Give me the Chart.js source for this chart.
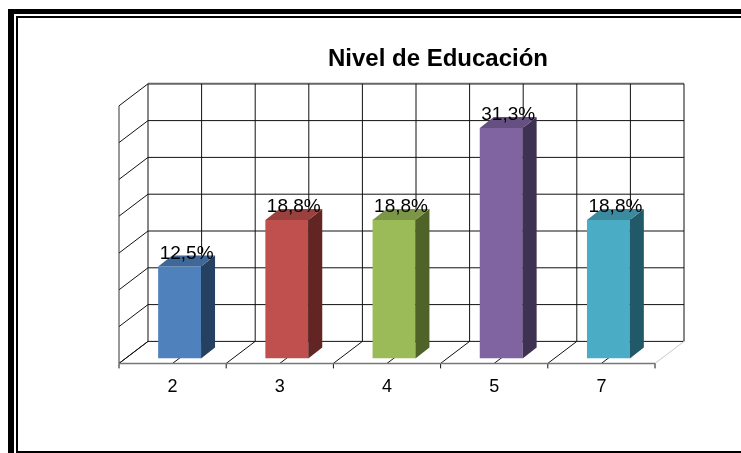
<!DOCTYPE html>
<html>
<head>
<meta charset="utf-8">
<style>
  html, body { margin: 0; padding: 0; background: #fff; overflow: hidden; }
  #wrap { position: relative; width: 741px; height: 453px; }
  #frameOuter { position: absolute; left: 8px; top: 9px; width: 733px; height: 444px; border-left: 6px solid #000; border-top: 5px solid #000; box-sizing: border-box; }
  #frameInner { position: absolute; left: 16px; top: 16px; width: 725px; height: 437px; border-left: 2px solid #000; border-top: 2px solid #000; border-bottom: 2px solid #000; box-sizing: border-box; }
  canvas { position: absolute; left: 0; top: 0; }
</style>
</head>
<body>
<div id="wrap">
  <canvas id="myChart" width="741" height="453"></canvas>
  <div id="frameOuter"></div>
  <div id="frameInner"></div>
</div>
<script src="https://cdn.jsdelivr.net/npm/chart.js@4"></script>
<script>
const categories = ['2', '3', '4', '5', '7'];
const percentages = [12.5, 18.8, 18.8, 31.3, 18.8];
const frontColors = ['#4F81BD', '#C0504D', '#9BBB59', '#8064A2', '#4BACC6'];
const topColors = ['#3F6797', '#9A403E', '#7C9647', '#665082', '#3C8A9E'];
const sideColors = ['#254061', '#632523', '#4F6228', '#3F3151', '#215968'];

// pseudo 3d offsets, relative to the plane the bars stand on
const frontShift = { x: -7, y: 5 };
const backShift = { x: 22, y: -17 };
const barDepth = { x: 14, y: -11 };

function line(ctx, x1, y1, x2, y2, color, width) {
  ctx.strokeStyle = color;
  ctx.lineWidth = width;
  ctx.beginPath();
  ctx.moveTo(x1, y1);
  ctx.lineTo(x2, y2);
  ctx.stroke();
}

function face(ctx, points, color) {
  ctx.fillStyle = color;
  ctx.beginPath();
  points.forEach((p, i) => (i ? ctx.lineTo(p[0], p[1]) : ctx.moveTo(p[0], p[1])));
  ctx.closePath();
  ctx.fill();
}

const box3d = {
  id: 'box3d',
  afterLayout(chart) {
    // the title sits right of the canvas centre in the original
    chart.titleBlock.left = 135;
    chart.titleBlock.right = 741;
  },
  beforeDatasetsDraw(chart) {
    const { ctx, chartArea, scales: { x, y } } = chart;
    const fy = chartArea.bottom + frontShift.y;
    const by = chartArea.bottom + backShift.y;
    const step = (x.getPixelForValue(1) - x.getPixelForValue(0)) / 2;
    ctx.save();

    // horizontal lines on back wall and left wall
    y.ticks.forEach((t) => {
      const py = y.getPixelForValue(t.value);
      const isTop = t.value === y.max;
      line(ctx, chartArea.left + backShift.x, py + backShift.y, chartArea.right + backShift.x, py + backShift.y, isTop ? '#666' : '#111', isTop ? 2 : 1);
      line(ctx, chartArea.left + frontShift.x, py + frontShift.y, chartArea.left + backShift.x, py + backShift.y, '#111', 1);
    });

    // verticals and floor diagonals
    for (let k = 0; k <= categories.length * 2; k++) {
      const px = chartArea.left + k * step;
      const last = k === categories.length * 2;
      line(ctx, px + backShift.x, chartArea.top + backShift.y, px + backShift.x, by, '#111', 1);
      line(ctx, px + frontShift.x, fy, px + backShift.x, by, last ? '#c8c8c8' : '#111', 1);
      if (k % 2 === 0) {
        line(ctx, px + frontShift.x, fy, px + frontShift.x, fy + 5, '#111', 1);
      }
    }

    line(ctx, chartArea.left + frontShift.x, chartArea.top + frontShift.y, chartArea.left + frontShift.x, fy, '#333', 1);
    line(ctx, chartArea.left + frontShift.x, fy, chartArea.right + frontShift.x, fy, '#777', 1.5);
    ctx.restore();
  },
  afterDatasetsDraw(chart) {
    const { ctx } = chart;
    const bars = chart.getDatasetMeta(0).data;
    ctx.save();
    bars.forEach((bar, i) => {
      const l = bar.x - bar.width / 2;
      const r = bar.x + bar.width / 2;
      const dx = barDepth.x;
      const dy = barDepth.y;
      face(ctx, [[r, bar.y], [r + dx, bar.y + dy], [r + dx, bar.base + dy], [r, bar.base]], sideColors[i]);
      face(ctx, [[l, bar.y], [l + dx, bar.y + dy], [r + dx, bar.y + dy], [r, bar.y]], topColors[i]);
    });
    ctx.fillStyle = '#000';
    ctx.font = '19px "Liberation Sans"';
    ctx.textAlign = 'center';
    ctx.textBaseline = 'middle';
    bars.forEach((bar, i) => {
      const text = percentages[i].toFixed(1).replace('.', ',') + '%';
      ctx.fillText(text, bar.x + barDepth.x / 2, bar.y - 13);
    });
    ctx.restore();
  },
};

new Chart(document.getElementById('myChart'), {
  type: 'bar',
  data: {
    labels: categories,
    datasets: [
      {
        data: percentages,
        backgroundColor: frontColors,
        categoryPercentage: 1,
        barPercentage: 0.4,
        borderWidth: 0,
      },
    ],
  },
  options: {
    responsive: false,
    animation: false,
    layout: { padding: { left: 126, right: 79, top: 0, bottom: 45 } },
    scales: {
      x: {
        grid: { display: false },
        border: { display: false },
        ticks: {
          color: '#000',
          font: { family: "'Liberation Sans'", size: 18 },
          labelOffset: frontShift.x,
          padding: 10,
          maxRotation: 0,
        },
      },
      y: {
        display: false,
        min: 0,
        max: 35,
        ticks: { stepSize: 5 },
      },
    },
    plugins: {
      legend: { display: false },
      tooltip: { enabled: false },
      title: {
        display: true,
        text: 'Nivel de Educación',
        color: '#000',
        font: { family: "'Liberation Sans'", size: 24, weight: 'bold' },
        padding: { top: 45, bottom: 27 },
      },
    },
  },
  plugins: [box3d],
});
</script>
</body>
</html>
